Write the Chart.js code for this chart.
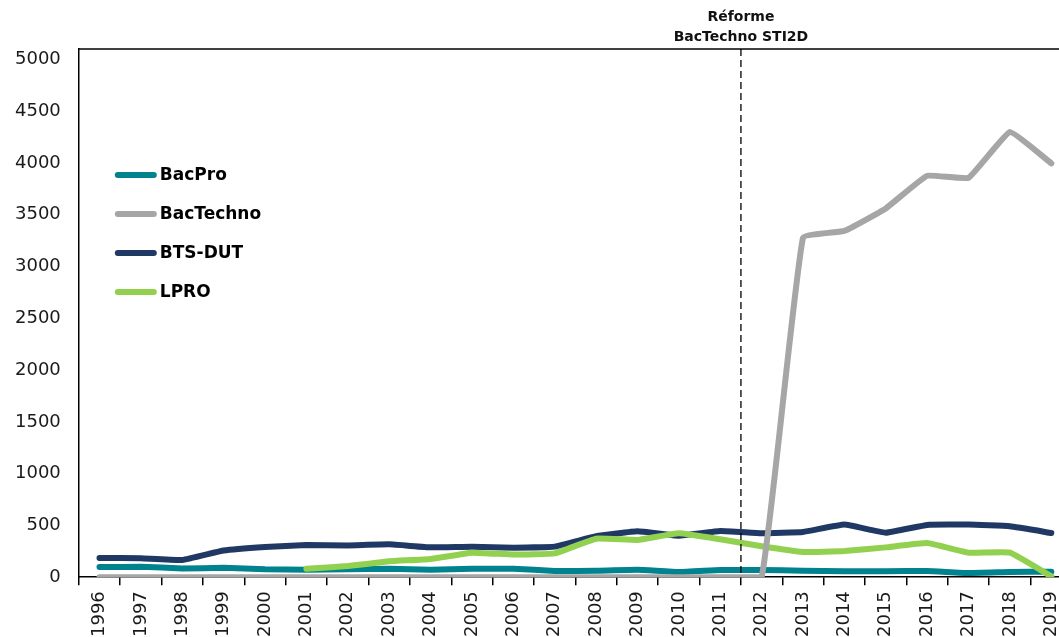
<!DOCTYPE html>
<html>
<head>
<meta charset="utf-8">
<script src="https://cdn.jsdelivr.net/npm/chart.js@4/dist/chart.umd.min.js"></script>
<style>
html,body{margin:0;padding:0;background:#fff;overflow:hidden;width:1059px;height:637px;}
#c{display:block;}
</style>
</head>
<body>
<canvas id="c" width="1085" height="650"></canvas>
<script>
const years = ['1996','1997','1998','1999','2000','2001','2002','2003','2004','2005','2006','2007','2008','2009','2010','2011','2012','2013','2014','2015','2016','2017','2018','2019'];
const bacPro    = [98,100,85,90,76,72,76,82,72,82,82,60,63,72,50,70,70,63,57,57,60,40,50,53];
const bacTechno = [0,0,0,0,0,0,0,0,0,0,0,0,0,0,0,0,0,3277,3344,3561,3876,3857,4299,3996];
const btsDut    = [186,182,166,258,292,311,307,317,288,295,285,295,395,443,401,447,424,437,508,430,505,508,491,427];
const lpro      = [null,null,null,null,null,82,108,153,176,237,218,230,372,360,424,366,298,243,253,288,330,237,237,8];
const yTicks    = [0,500,1000,1500,2000,2500,3000,3500,4000,4500,5000];
const seriesNames = ['BacPro','BacTechno','BTS-DUT','LPRO'];
const reformAfter = '2011';
const annotationLines = ['Réforme','BacTechno STI2D'];

const colors = ['#00828F','#A6A6A6','#1F3864','#92D050'];
const FONT = '"DejaVu Sans", sans-serif';

const mk = (i, data, order) => ({
  label: seriesNames[i], data, borderColor: colors[i], backgroundColor: colors[i],
  borderWidth: 6, pointRadius: 0, pointHoverRadius: 0, fill: false,
  tension: 0.1, borderCapStyle: 'round', borderJoinStyle: 'round',
  spanGaps: false, order
});

const extras = {
  id: 'extras',
  afterDraw(chart) {
    const {ctx, chartArea: a, scales: {x}} = chart;
    ctx.save();
    ctx.strokeStyle = '#000'; ctx.lineWidth = 1.5;
    ctx.beginPath(); ctx.moveTo(a.left, a.top); ctx.lineTo(a.right, a.top); ctx.stroke();
    const i = years.indexOf(reformAfter);
    const xp = (x.getPixelForValue(i) + x.getPixelForValue(i + 1)) / 2;
    ctx.setLineDash([7, 4]); ctx.lineWidth = 1.3;
    ctx.beginPath(); ctx.moveTo(xp, a.top); ctx.lineTo(xp, a.bottom); ctx.stroke();
    ctx.setLineDash([]);
    ctx.fillStyle = '#111'; ctx.font = 'bold 14px ' + FONT;
    ctx.textAlign = 'center'; ctx.textBaseline = 'middle';
    ctx.fillText(annotationLines[0], xp, 17);
    ctx.fillText(annotationLines[1], xp, 37);
    const lx = a.left + 36, ly = a.top + 126, dy = 39;
    ctx.font = 'bold 17px ' + FONT; ctx.textAlign = 'left';
    chart.data.datasets.forEach((d, k) => {
      const y = ly + k * dy;
      ctx.strokeStyle = d.borderColor; ctx.lineWidth = 6; ctx.lineCap = 'round';
      ctx.beginPath(); ctx.moveTo(lx + 3, y); ctx.lineTo(lx + 39, y); ctx.stroke();
      ctx.fillStyle = '#000';
      ctx.fillText(d.label, lx + 45, y + 1);
    });
    ctx.restore();
  }
};

new Chart(document.getElementById('c'), {
  type: 'line',
  data: {
    labels: years,
    datasets: [mk(0, bacPro, 4), mk(1, bacTechno, 1), mk(2, btsDut, 3), mk(3, lpro, 2)]
  },
  options: {
    responsive: false, animation: false,
    layout: { padding: { left: -3, top: 49, right: 13, bottom: 7 } },
    plugins: { legend: { display: false }, tooltip: { enabled: false } },
    scales: {
      x: {
        type: 'category', offset: true,
        grid: { offset: true, drawOnChartArea: false, drawTicks: true, tickLength: 8, color: '#000', lineWidth: 1.5 },
        border: { display: true, color: '#000', width: 1.5 },
        ticks: { maxRotation: 90, minRotation: 90, autoSkip: false, padding: 6, color: '#1a1a1a', font: { family: FONT, size: 18 } }
      },
      y: {
        min: 0, max: 5100,
        afterBuildTicks: (axis) => { axis.ticks = yTicks.map(v => ({ value: v })); },
        grid: { display: false, drawTicks: false },
        border: { display: true, color: '#000', width: 1.5 },
        ticks: { padding: 18, color: '#1a1a1a', font: { family: FONT, size: 18 }, callback: (v) => String(v) }
      }
    }
  },
  plugins: [extras]
});
</script>
</body>
</html>
